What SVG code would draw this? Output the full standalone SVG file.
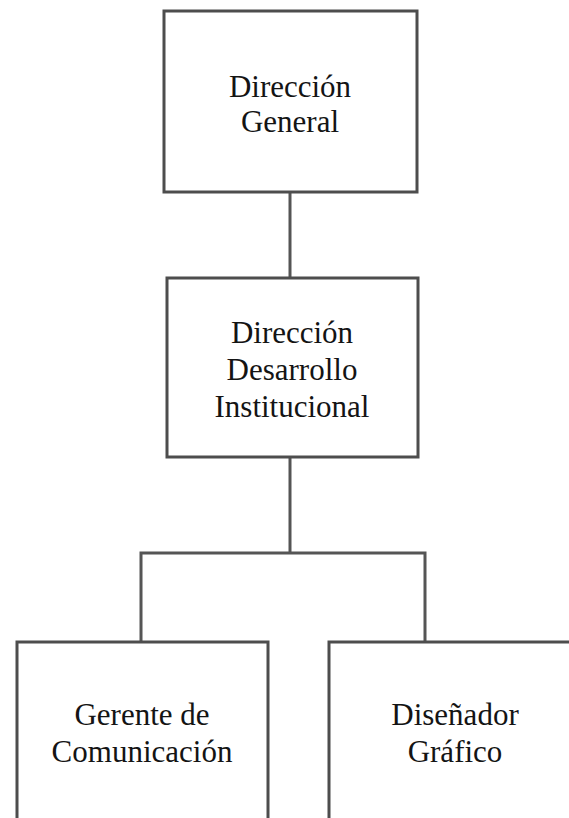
<svg xmlns="http://www.w3.org/2000/svg" width="569" height="818" viewBox="0 0 569 818">
  <style>
    .box { fill: #ffffff; stroke: #4d4d4d; stroke-width: 3; }
    .link { fill: none; stroke: #555555; stroke-width: 3; }
    .label { font-family: "Liberation Serif", "Times New Roman", serif; font-size: 31px; fill: #141414; text-anchor: middle; }
  </style>
  <rect width="569" height="818" fill="#ffffff"/>

  <!-- connectors -->
  <g id="connectors">
    <line class="link" x1="290" y1="192" x2="290" y2="278"/>
    <line class="link" x1="290" y1="457" x2="290" y2="553"/>
    <polyline class="link" points="141,642 141,553 425,553 425,642"/>
  </g>

  <g id="direccion-general">
    <rect class="box" x="164" y="11" width="253" height="181"/>
    <text class="label" x="290" y="97">Dirección</text>
    <text class="label" x="290" y="132">General</text>
  </g>

  <g id="direccion-desarrollo">
    <rect class="box" x="167" y="278" width="251" height="179"/>
    <text class="label" x="292" y="343">Dirección</text>
    <text class="label" x="292" y="380">Desarrollo</text>
    <text class="label" x="292" y="417">Institucional</text>
  </g>

  <g id="gerente-comunicacion">
    <rect class="box" x="17" y="642" width="251" height="190"/>
    <text class="label" x="142" y="725">Gerente de</text>
    <text class="label" x="142" y="762">Comunicación</text>
  </g>

  <g id="disenador-grafico">
    <rect class="box" x="329" y="642" width="252" height="190"/>
    <text class="label" x="455" y="725">Diseñador</text>
    <text class="label" x="455" y="762">Gráfico</text>
  </g>
</svg>
